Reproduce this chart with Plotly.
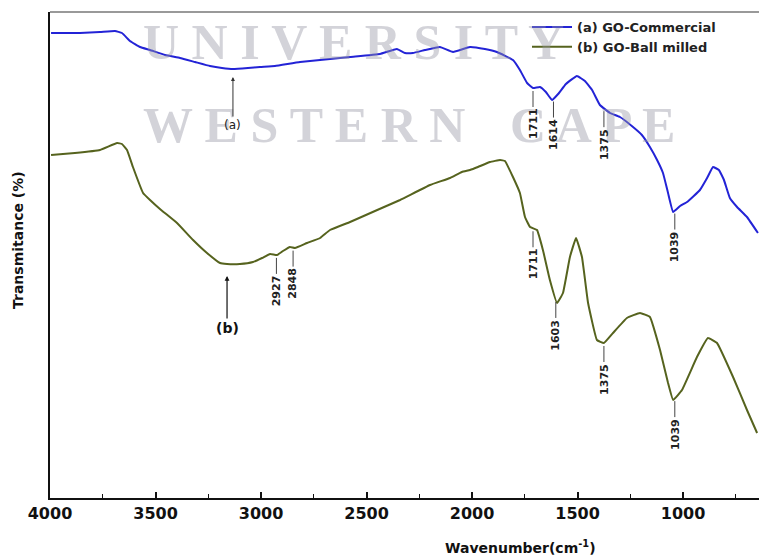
import numpy as np
import plotly.graph_objects as go

# ---- data (wavenumber in cm^-1, transmittance in arbitrary units) ----
wn_a = [3995, 3858, 3763, 3692, 3659, 3621, 3573, 3526, 3455, 3384, 3313, 3242, 3185, 3133,
        3062, 3005, 2934, 2815, 2578, 2436, 2356, 2318, 2280, 2223, 2152, 2090, 2010, 1939,
        1882, 1806, 1773, 1739, 1711, 1678, 1650, 1621, 1592, 1555, 1503, 1465, 1431, 1394,
        1346, 1299, 1237, 1195, 1157, 1123, 1095, 1071, 1047, 1014, 981, 920, 886, 858, 830,
        806, 778, 744, 697, 645]
t_a = [465, 465, 466, 467, 465, 457, 451, 448, 443, 440, 436, 432, 430, 429,
       430, 431, 432, 436, 441, 444, 449, 445, 445, 448, 451, 446, 451, 449,
       446, 438, 428, 415, 410, 411, 406, 398, 404, 414, 422, 417, 408, 393,
       385, 381, 371, 363, 351, 338, 325, 305, 286, 292, 296, 308, 320, 331, 328,
       318, 300, 291, 281, 265]

wn_b = [3995, 3882, 3763, 3682, 3659, 3635, 3607, 3559, 3526, 3479, 3398, 3322, 3256, 3194,
        3161, 3100, 3038, 2995, 2957, 2924, 2896, 2863, 2839, 2782, 2720, 2673, 2578, 2460,
        2341, 2199, 2104, 2048, 2010, 1972, 1915, 1867, 1844, 1806, 1773, 1749, 1725, 1692,
        1664, 1631, 1597, 1569, 1536, 1507, 1479, 1450, 1408, 1375, 1332, 1266, 1204, 1157,
        1109, 1071, 1047, 1005, 934, 882, 839, 763, 697, 649]
t_b = [343, 345, 348, 355, 354, 348, 331, 305, 298, 289, 275, 258, 245, 235,
       234, 234, 236, 240, 244, 243, 247, 251, 250, 255, 260, 268, 276, 287,
       298, 313, 320, 326, 328, 331, 336, 338, 337, 321, 305, 281, 271, 268,
       248, 218, 195, 205, 241, 260, 241, 195, 158, 155, 165, 180, 185, 181,
       148, 115, 98, 108, 141, 160, 155, 121, 88, 65]

peaks_a = [1711, 1614, 1375, 1039]
peaks_b = [2927, 2848, 1711, 1603, 1375, 1039]
labels = ["(a) GO-Commercial", "(b) GO-Ball milled"]
x_ticks = [4000, 3500, 3000, 2500, 2000, 1500, 1000]

BLUE = "#2323d6"
GREEN = "#56631e"
FONT = "DejaVu Sans, Liberation Sans, Arial, sans-serif"

def curve_y(wn, t, x):
    return float(np.interp(x, wn[::-1], t[::-1]))

fig = go.Figure()
fig.add_trace(go.Scatter(x=wn_a, y=t_a, mode="lines", name="<b>%s</b>" % labels[0],
                         line=dict(color=BLUE, width=2, shape="spline", smoothing=0.3)))
fig.add_trace(go.Scatter(x=wn_b, y=t_b, mode="lines", name="<b>%s</b>" % labels[1],
                         line=dict(color=GREEN, width=2, shape="spline", smoothing=0.3)))

ann = []
# watermark
wm_font = dict(family="Liberation Serif, DejaVu Serif, serif", size=50, color="rgba(150,150,165,0.42)")
ann.append(dict(xref="paper", yref="paper", x=(141 - 50) / 709, y=1.0, xanchor="left", yanchor="top",
                text="<b>U N I V E R S I T Y</b>", showarrow=False, font=wm_font))
ann.append(dict(xref="paper", yref="paper", x=(141 - 50) / 709, y=0.83, xanchor="left", yanchor="top",
                text="<b>W E S T E R N</b>", showarrow=False, font=wm_font))
ann.append(dict(xref="paper", yref="paper", x=(508 - 50) / 709, y=0.83, xanchor="left", yanchor="top",
                text="<b>C A P E</b>", showarrow=False, font=wm_font))

lab_font = dict(family=FONT, size=11, color="#222")
for wn_list, wn, t in ((peaks_a, wn_a, t_a), (peaks_b, wn_b, t_b)):
    for p in wn_list:
        ann.append(dict(x=p, y=curve_y(wn, t, p), xref="x", yref="y", text="<b>%d</b>" % p,
                        textangle=-90, showarrow=True, arrowhead=0, arrowwidth=1,
                        arrowcolor="#444", ax=0, ay=36, standoff=3, font=lab_font))

ann.append(dict(x=3133, y=curve_y(wn_a, t_a, 3133), xref="x", yref="y", text="(a)",
                showarrow=True, arrowhead=2, arrowsize=0.8, arrowwidth=1, arrowcolor="#333",
                ax=0, ay=56, standoff=8, font=dict(family=FONT, size=12, color="#222")))
ann.append(dict(x=3161, y=curve_y(wn_b, t_b, 3161), xref="x", yref="y", text="<b>(b)</b>",
                showarrow=True, arrowhead=2, arrowsize=0.8, arrowwidth=1.2, arrowcolor="#111",
                ax=0, ay=64, standoff=12, font=dict(family=FONT, size=14, color="#111")))

# axis titles
ann.append(dict(xref="paper", yref="paper", x=(520 - 50) / 709, y=-(547 - 498) / 486,
                xanchor="center", yanchor="middle", showarrow=False,
                text="<b>Wavenumber(cm<sup>-1</sup>)</b>", font=dict(family=FONT, size=14, color="#111")))
ann.append(dict(xref="paper", yref="paper", x=(18 - 50) / 709, y=1 - (240 - 12) / 486,
                xanchor="center", yanchor="middle", showarrow=False, textangle=-90,
                text="<b>Transmitance (%)</b>", font=dict(family=FONT, size=14, color="#111")))

fig.update_layout(
    width=759, height=558,
    margin=dict(l=50, r=0, t=12, b=60),
    paper_bgcolor="white", plot_bgcolor="white",
    font=dict(family=FONT, size=12, color="#111"),
    annotations=ann,
    showlegend=True,
    legend=dict(x=(527 - 50) / 709, y=1.0, xanchor="left", yanchor="top", bgcolor="rgba(0,0,0,0)",
                font=dict(size=13, color="#222", family=FONT),
                itemwidth=40, tracegroupgap=0),
    shapes=[dict(type="line", xref="paper", yref="paper", x0=0, x1=1, y0=1, y1=1,
                 line=dict(color="#777", width=1.5))],
)
fig.update_xaxes(range=[4000, 640], tickvals=x_ticks, ticktext=["<b>%d</b>" % v for v in x_ticks],
                 ticks="inside", ticklen=6, tickwidth=1.5, tickcolor="#111",
                 minor=dict(dtick=250, ticks="inside", ticklen=4, tickcolor="#111", tickwidth=1.2),
                 showline=True, linecolor="#111", linewidth=2, showgrid=False, zeroline=False,
                 tickfont=dict(size=16, family=FONT))
fig.update_yaxes(range=[0, 486], showticklabels=False, ticks="", showline=True, linecolor="#111",
                 linewidth=2, showgrid=False, zeroline=False)

fig.write_html("out.html")
